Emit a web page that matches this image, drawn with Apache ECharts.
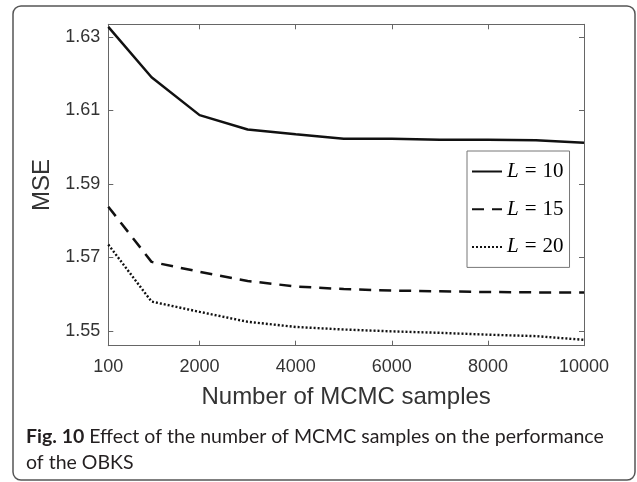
<!DOCTYPE html>
<html>
<head>
<meta charset="utf-8">
<script src="https://cdn.jsdelivr.net/npm/echarts@6/dist/echarts.min.js"></script>
<style>
  html, body { margin: 0; padding: 0; background: #fff; }
  #chart { width: 637px; height: 482px; }
</style>
</head>
<body>
<div id="chart"></div>
<script>
// MCMC sample counts on the x axis
var samples = [100, 1000, 2000, 3000, 4000, 5000, 6000, 7000, 8000, 9000, 10000];

// MSE for each truncation level L
var mseL10 = [1.6327, 1.6190, 1.6087, 1.6048, 1.6035, 1.6023, 1.6023, 1.6020, 1.6020, 1.6019, 1.6012];
var mseL15 = [1.5838, 1.5688, 1.5661, 1.5636, 1.5621, 1.5614, 1.5610, 1.5608, 1.5606, 1.5605, 1.5605];
var mseL20 = [1.5735, 1.5580, 1.5552, 1.5525, 1.5511, 1.5504, 1.5499, 1.5495, 1.5490, 1.5486, 1.5476];

var seriesNames = ['L = 10', 'L = 15', 'L = 20'];

// tick positions
var xTicks = [100, 2000, 4000, 6000, 8000, 10000];
var yTicks = [1.55, 1.57, 1.59, 1.61, 1.63];

var captionBold = 'Fig. 10';
var captionLine1 = ' Effect of the number of MCMC samples on the performance';
var captionLine2 = 'of the OBKS';

function pairs(vals) {
  return samples.map(function (x, i) { return [x, vals[i]]; });
}

var axisColor = '#666';
var labelFont = '"Liberation Sans", Arial, Helvetica, sans-serif';
var mathFont = '"Liberation Serif", "DejaVu Serif", serif';
var captionFont = 'Lato, "Open Sans", sans-serif';

var chart = echarts.init(document.getElementById('chart'), null, { renderer: 'canvas' });

var xBase = {
  type: 'value', min: 100, max: 10000,
  axisLine: { show: true, lineStyle: { color: axisColor, width: 1 } },
  axisTick: { show: true, inside: true, length: 5, customValues: xTicks, lineStyle: { color: axisColor } },
  splitLine: { show: false }
};
var yBase = {
  type: 'value', min: 1.546, max: 1.6334,
  axisLine: { show: true, lineStyle: { color: axisColor, width: 1 } },
  axisTick: { show: true, inside: true, length: 5, customValues: yTicks, lineStyle: { color: axisColor } },
  splitLine: { show: false }
};

var option = {
  backgroundColor: '#fff',
  animation: false,
  grid: { left: 108.3, right: 53, top: 24.3, bottom: 136.3, containLabel: false },
  xAxis: [
    Object.assign({}, xBase, {
      position: 'bottom',
      name: 'Number of MCMC samples',
      nameLocation: 'middle',
      nameGap: 40,
      nameTextStyle: { fontFamily: labelFont, fontSize: 24, color: '#333' },
      axisLabel: {
        customValues: xTicks, margin: 12,
        fontFamily: labelFont, fontSize: 18, color: '#333',
        formatter: function (v) { return String(v); }
      }
    }),
    Object.assign({}, xBase, { position: 'top', axisLabel: { show: false } })
  ],
  yAxis: [
    Object.assign({}, yBase, {
      position: 'left',
      name: 'MSE',
      nameLocation: 'middle',
      nameGap: 40,
      nameTextStyle: { fontFamily: labelFont, fontSize: 24, color: '#333' },
      axisLabel: {
        customValues: yTicks, margin: 8,
        fontFamily: labelFont, fontSize: 18, color: '#333',
        formatter: function (v) { return v.toFixed(2); }
      }
    }),
    Object.assign({}, yBase, { position: 'right', axisLabel: { show: false } })
  ],
  legend: {
    orient: 'vertical',
    left: 467, top: 151,
    padding: [10, 6, 10, 4],
    itemGap: 16.7,
    itemWidth: 30, itemHeight: 14,
    borderColor: '#777', borderWidth: 1,
    backgroundColor: '#fff',
    itemStyle: { opacity: 0 },
    data: seriesNames,
    formatter: function (name) {
      var parts = name.split(' = ');
      return '{i|' + parts[0] + '}{e|=}{n|' + parts[1] + '}';
    },
    textStyle: {
      color: '#000',
      rich: {
        i: { fontFamily: mathFont, fontStyle: 'italic', fontSize: 21, lineHeight: 20 },
        e: { fontFamily: mathFont, fontSize: 21, lineHeight: 20, padding: [0, 6, 0, 6] },
        n: { fontFamily: mathFont, fontSize: 21, lineHeight: 20 }
      }
    }
  },
  series: [
    {
      name: seriesNames[0], type: 'line', data: pairs(mseL10),
      symbol: 'none', lineStyle: { color: '#111', width: 2.5, type: 'solid' },
      itemStyle: { color: '#111' }
    },
    {
      name: seriesNames[1], type: 'line', data: pairs(mseL15),
      symbol: 'none', lineStyle: { color: '#111', width: 2.5, type: [12, 8] },
      itemStyle: { color: '#111' }
    },
    {
      name: seriesNames[2], type: 'line', data: pairs(mseL20),
      symbol: 'none', lineStyle: { color: '#111', width: 2.4, type: [2, 2] },
      itemStyle: { color: '#111' }
    }
  ],
  graphic: [
    {
      type: 'rect', silent: true, z: -1,
      shape: { x: 13, y: 6, width: 622, height: 474, r: 8 },
      style: { fill: 'none', stroke: '#555', lineWidth: 1.5 }
    },
    {
      type: 'text', left: 26, top: 427,
      style: {
        text: '{b|' + captionBold + '}' + captionLine1,
        fontFamily: captionFont, fontSize: 19.5, fill: '#231f20',
        rich: { b: { fontFamily: captionFont, fontSize: 19.5, fontWeight: 'bold', fill: '#231f20' } }
      }
    },
    {
      type: 'text', left: 26, top: 453,
      style: {
        text: captionLine2,
        fontFamily: captionFont, fontSize: 19.5, fill: '#231f20'
      }
    }
  ]
};

chart.setOption(option);
</script>
</body>
</html>
